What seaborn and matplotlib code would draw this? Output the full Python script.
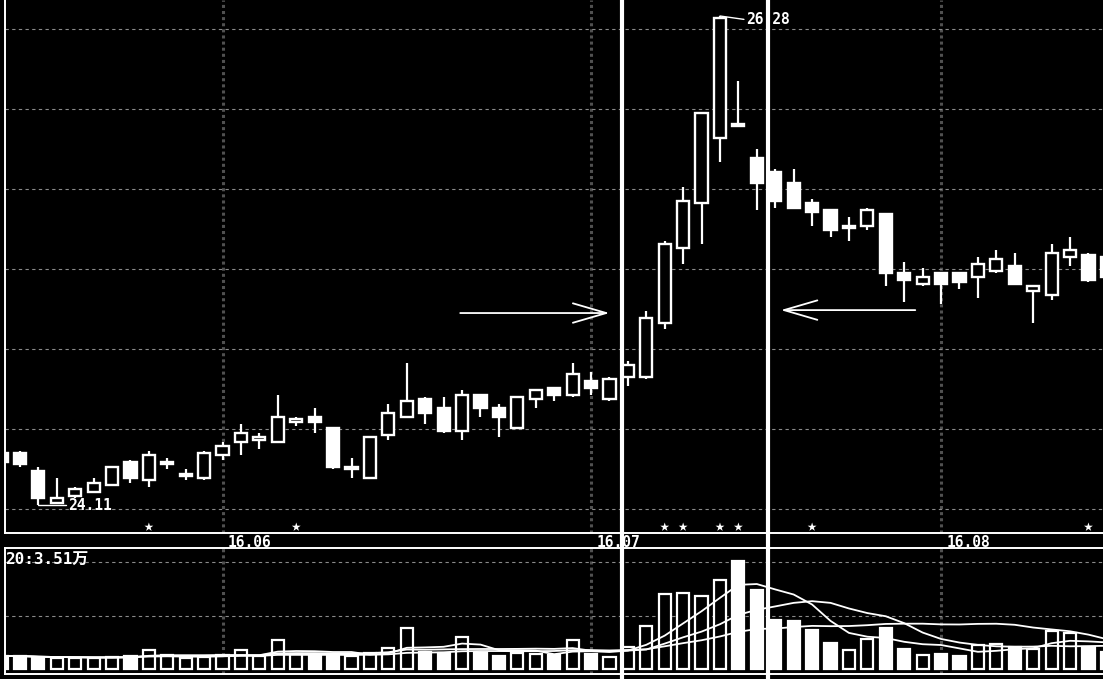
import numpy as np
import pandas as pd
import seaborn as sns
import matplotlib
matplotlib.use('Agg')
from matplotlib import pyplot as plt
from matplotlib import transforms
from matplotlib.patches import Rectangle
from matplotlib.lines import Line2D

# daily candles, index -1 is the partly hidden first bar
day = list(range(-1, 60))
opens = [24.34, 24.34, 24.26, 24.12, 24.15, 24.17, 24.20, 24.30, 24.22, 24.29,
         24.24, 24.23, 24.33, 24.39, 24.40, 24.39, 24.48, 24.50, 24.45, 24.27,
         24.23, 24.42, 24.50, 24.58, 24.54, 24.44, 24.60, 24.54, 24.45, 24.58,
         24.63, 24.60, 24.66, 24.58, 24.68, 24.68, 24.92, 25.25, 25.45, 25.74,
         25.80, 25.65, 25.59, 25.54, 25.45, 25.42, 25.34, 25.35, 25.40, 25.14,
         25.09, 25.14, 25.14, 25.12, 25.15, 25.17, 25.06, 25.04, 25.21, 25.22,
         25.21]
highs = [24.35, 24.35, 24.28, 24.23, 24.19, 24.23, 24.28, 24.31, 24.35, 24.32,
         24.27, 24.35, 24.39, 24.47, 24.43, 24.60, 24.50, 24.54, 24.45, 24.32,
         24.41, 24.56, 24.74, 24.59, 24.59, 24.62, 24.60, 24.56, 24.59, 24.62,
         24.63, 24.74, 24.70, 24.68, 24.75, 24.97, 25.28, 25.52, 25.85, 26.28,
         25.99, 25.69, 25.60, 25.60, 25.47, 25.42, 25.39, 25.43, 25.40, 25.19,
         25.16, 25.14, 25.14, 25.21, 25.24, 25.23, 25.08, 25.27, 25.30, 25.23,
         25.21]
lows = [24.30, 24.28, 24.11, 24.12, 24.14, 24.17, 24.20, 24.21, 24.19, 24.27,
        24.22, 24.22, 24.31, 24.33, 24.36, 24.39, 24.46, 24.43, 24.27, 24.23,
        24.23, 24.40, 24.50, 24.47, 24.43, 24.40, 24.50, 24.41, 24.45, 24.54,
        24.57, 24.59, 24.60, 24.57, 24.64, 24.67, 24.89, 25.18, 25.27, 25.63,
        25.79, 25.42, 25.43, 25.43, 25.35, 25.30, 25.28, 25.33, 25.08, 25.01,
        25.08, 25.00, 25.07, 25.03, 25.14, 25.09, 24.92, 25.02, 25.17, 25.10,
        25.11]
closes = [24.30, 24.29, 24.14, 24.14, 24.18, 24.21, 24.28, 24.23, 24.33, 24.30,
          24.25, 24.34, 24.37, 24.43, 24.41, 24.50, 24.49, 24.48, 24.28, 24.28,
          24.41, 24.52, 24.57, 24.52, 24.44, 24.60, 24.54, 24.50, 24.59, 24.62,
          24.60, 24.69, 24.63, 24.67, 24.73, 24.94, 25.27, 25.46, 25.85, 26.27,
          25.79, 25.54, 25.46, 25.43, 25.41, 25.33, 25.35, 25.42, 25.14, 25.11,
          25.12, 25.09, 25.10, 25.18, 25.20, 25.09, 25.08, 25.23, 25.24, 25.11,
          25.12]
# volume in 万手
volume = [1.53, 1.53, 1.30, 1.30, 1.30, 1.30, 1.42, 1.53, 2.24, 1.65,
          1.30, 1.42, 1.65, 2.24, 1.53, 3.42, 1.77, 1.53, 1.77, 1.53,
          1.89, 2.48, 4.84, 2.01, 1.89, 3.78, 1.89, 1.53, 1.89, 1.77,
          1.65, 3.42, 1.77, 1.42, 2.60, 5.07, 8.85, 8.97, 8.61, 10.50,
          12.74, 9.32, 5.78, 5.61, 4.60, 3.07, 2.24, 3.54, 4.84, 2.36,
          1.65, 1.77, 1.53, 2.83, 2.95, 2.60, 2.36, 4.48, 4.25, 2.60,
          2.01]
star_days = [7, 15, 35, 36, 38, 39, 43, 58]
month_days = [11, 31, 50]
month_labels = ['16.06', '16.07', '16.08']
ma_windows = [5, 10, 20]
vol_label = '20:3.51万'


sns.set_style('dark', {'axes.facecolor': 'black', 'figure.facecolor': 'black'})
plt.rcParams['font.family'] = ['DejaVu Sans Mono', 'Noto Sans CJK SC']

df = pd.DataFrame({'day': day, 'open': opens, 'high': highs, 'low': lows,
                   'close': closes, 'volume': volume})
df['up'] = df['close'] >= df['open']
for w in ma_windows:
    df['ma%d' % w] = df['volume'].rolling(w, min_periods=1).mean()

W, H = 1103, 679
fig = plt.figure(figsize=(W / 100, H / 100), dpi=100, facecolor='black')
ax = fig.add_axes([5 / W, 1 - 533 / H, 1098 / W, 533 / H])
axv = fig.add_axes([5 / W, 5 / H, 1098 / W, 126 / H], sharex=ax)

for a in (ax, axv):
    a.set_facecolor('black')
    for s in a.spines.values():
        s.set_color('white')
        s.set_linewidth(1.4)
    a.spines['right'].set_visible(False)
    a.tick_params(left=False, bottom=False, labelleft=False, labelbottom=False)
ax.spines['top'].set_visible(False)

# price panel
bw = 0.66
ax.vlines(df['day'], df['low'], df['high'], color='white', lw=1.6, zorder=3)
for _, r in df.iterrows():
    bottom = min(r['open'], r['close'])
    ax.add_patch(Rectangle((r['day'] - bw / 2, bottom), bw, abs(r['close'] - r['open']),
                           facecolor='black' if r['up'] else 'white',
                           edgecolor='white', lw=1.7, zorder=4))

ax.set_xlim(-0.81, 58.79)
ax.set_ylim(23.986, 26.351)
ax.set_yticks(24.092 + 0.355 * np.arange(7))
ax.set_xticks(month_days)
ax.grid(axis='y', color='#8a8a8a', ls=(0, (3, 3)), lw=0.8)
ax.grid(axis='x', color='#505050', ls=(0, (1, 1)), lw=2.2)

sns.scatterplot(x=star_days, y=[ax.get_ylim()[0] + 0.026] * len(star_days), ax=ax,
                marker='*', s=45, color='white', edgecolor='none', zorder=5)

# high / low marks
ih = df['high'].idxmax()
il = df['low'].idxmin()
hx, hy = df.loc[ih, 'day'], df.loc[ih, 'high']
lx, ly = df.loc[il, 'day'], df.loc[il, 'low']
ax.plot([hx, hx + 1.3], [hy, hy - 0.015], color='white', lw=1, zorder=5)
ax.text(hx + 1.4, hy - 0.015, '%.2f' % hy, color='white', fontsize=10.5,
        fontweight='bold', va='center', ha='left')
ax.plot([lx, lx + 1.5], [ly, ly], color='white', lw=1, zorder=5)
ax.text(lx + 1.6, ly, '%.2f' % ly, color='white', fontsize=10.5,
        fontweight='bold', va='center', ha='left')

for d, lab in zip(month_days, month_labels):
    ax.text(d + 0.3, -0.017, lab, transform=transforms.blended_transform_factory(ax.transData, ax.transAxes),
            color='white', fontsize=10.5, fontweight='bold', va='center', ha='left')

# arrows
ap = dict(arrowstyle='->,head_length=2.4,head_width=0.7', color='white', lw=1.3,
          shrinkA=0, shrinkB=0)
ax.annotate('', xy=(32.0, 24.962), xytext=(23.9, 24.962), arrowprops=ap)
ax.annotate('', xy=(41.3, 24.975), xytext=(48.6, 24.975), arrowprops=ap)

# volume panel
axv.bar(df['day'], df['volume'], width=bw,
        color=['black' if u else 'white' for u in df['up']],
        edgecolor='white', lw=1.6, zorder=3)
for w in ma_windows:
    sns.lineplot(data=df, x='day', y='ma%d' % w, ax=axv, color='white', lw=1.3, zorder=4)
axv.set_ylim(-0.59, 14.28)
axv.set_yticks([6.25, 12.63])
axv.set_xticks(month_days)
axv.grid(axis='y', color='#8a8a8a', ls=(0, (3, 3)), lw=0.8)
axv.grid(axis='x', color='#505050', ls=(0, (1, 1)), lw=2.2)
axv.set_xlabel('')
axv.set_ylabel('')
axv.text(0.0, 0.97, vol_label, transform=axv.transAxes, color='white', fontsize=11.5,
         fontweight='bold', va='top', ha='left')

# marker lines through both panels
tr = transforms.blended_transform_factory(ax.transData, fig.transFigure)
for xm in (32.7, 40.6):
    fig.add_artist(Line2D([xm, xm], [0, 1], transform=tr, color='white', lw=3))

fig.savefig('out.png', dpi=100, facecolor='black')
